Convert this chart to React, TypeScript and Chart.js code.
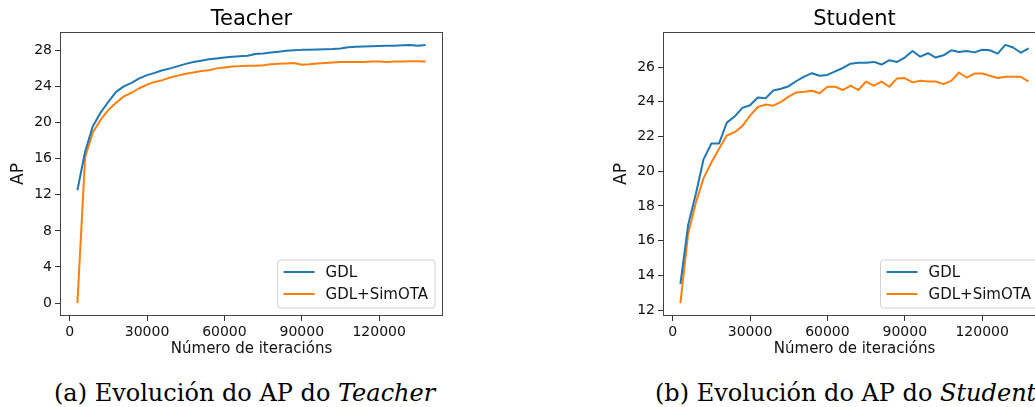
import React, { useEffect, useRef } from "react";
import { Chart, registerables } from "chart.js";

Chart.register(...registerables);
Chart.defaults.font.family = "'DejaVu Sans', sans-serif";

// ---------- data ----------
const iterations = [
  3000, 6000, 9000, 12000, 15000, 18000, 21000, 24000, 27000, 30000,
  33000, 36000, 39000, 42000, 45000, 48000, 51000, 54000, 57000, 60000,
  63000, 66000, 69000, 72000, 75000, 78000, 81000, 84000, 87000, 90000,
  93000, 96000, 99000, 102000, 105000, 108000, 111000, 114000, 117000, 120000,
  123000, 126000, 129000, 132000, 135000, 138000,
];

const teacherGDL = [
  12.5, 16.8, 19.6, 21.1, 22.3, 23.4, 24.0, 24.4, 24.9, 25.25,
  25.5, 25.8, 26.0, 26.25, 26.5, 26.7, 26.85, 27.0, 27.1, 27.2,
  27.3, 27.35, 27.4, 27.6, 27.65, 27.75, 27.85, 27.95, 28.0, 28.05,
  28.07, 28.1, 28.12, 28.15, 28.2, 28.35, 28.4, 28.42, 28.45, 28.47,
  28.5, 28.52, 28.55, 28.58, 28.5, 28.6,
];

const teacherSimOTA = [
  0, 16.2, 18.9, 20.3, 21.4, 22.2, 22.9, 23.3, 23.8, 24.2,
  24.5, 24.7, 25.0, 25.2, 25.4, 25.55, 25.7, 25.8, 26.0, 26.1,
  26.2, 26.25, 26.3, 26.3, 26.35, 26.45, 26.5, 26.55, 26.6, 26.4,
  26.45, 26.55, 26.6, 26.65, 26.7, 26.7, 26.7, 26.7, 26.75, 26.75,
  26.7, 26.75, 26.75, 26.78, 26.78, 26.75,
];

const studentGDL = [
  13.5, 16.9, 18.7, 20.7, 21.6, 21.6, 22.8, 23.15, 23.65, 23.8,
  24.25, 24.2, 24.65, 24.75, 24.9, 25.2, 25.45, 25.65, 25.5, 25.55,
  25.75, 25.95, 26.2, 26.25, 26.25, 26.3, 26.15, 26.4, 26.3, 26.55,
  26.93, 26.6, 26.8, 26.55, 26.68, 26.97, 26.87, 26.93, 26.85, 27.0,
  26.97, 26.78, 27.28, 27.13, 26.83, 27.08,
];

const studentSimOTA = [
  12.4, 16.4, 18.2, 19.6, 20.5, 21.3, 22.06, 22.25, 22.6, 23.2,
  23.7, 23.84, 23.78, 24.0, 24.3, 24.54, 24.58, 24.64, 24.49, 24.87,
  24.87, 24.68, 24.93, 24.68, 25.17, 24.93, 25.17, 24.87, 25.35, 25.37,
  25.12, 25.21, 25.17, 25.17, 25.02, 25.21, 25.69, 25.4, 25.63, 25.63,
  25.5, 25.37, 25.44, 25.44, 25.44, 25.17,
];

const xTickValues = [0, 30000, 60000, 90000, 120000];
const teacherYTicks = [0, 4, 8, 12, 16, 20, 24, 28];
const studentYTicks = [12, 14, 16, 18, 20, 22, 24, 26];

const seriesLabels = ["GDL", "GDL+SimOTA"];
const seriesColors = ["#1f77b4", "#ff7f0e"];

const xAxisLabel = "Número de iteracións";
const yAxisLabel = "AP";

// ---------- helpers ----------
function marginRange(values: number[]) {
  const lo = Math.min(...values);
  const hi = Math.max(...values);
  const m = (hi - lo) * 0.05;
  return { min: lo - m, max: hi + m };
}

const TEXT = "#111";

const decorPlugin = {
  id: "mplDecor",
  afterDraw(chart: any, _args: any, opts: any) {
    const { ctx, chartArea: a } = chart;
    ctx.save();
    // title
    ctx.fillStyle = "#000";
    ctx.font = "21px 'DejaVu Sans'";
    ctx.textAlign = "center";
    ctx.textBaseline = "alphabetic";
    ctx.fillText(opts.title, (a.left + a.right) / 2, a.top - 7);

    // frame
    ctx.strokeStyle = "#444";
    ctx.lineWidth = 1;
    ctx.strokeRect(
      Math.round(a.left) + 0.5,
      Math.round(a.top) + 0.5,
      Math.round(a.right - a.left) - 1,
      Math.round(a.bottom - a.top) - 1
    );

    // legend
    ctx.font = "15px 'DejaVu Sans'";
    const textW = Math.max(
      ...chart.data.datasets.map((d: any) => ctx.measureText(d.label).width)
    );
    const boxW = 6 + 31 + 11 + textW + 7;
    const boxH = 48;
    const bx = a.right - 8 - boxW;
    const by = a.bottom - 8 - boxH;
    const r = 3;
    ctx.beginPath();
    ctx.moveTo(bx + r, by);
    ctx.lineTo(bx + boxW - r, by);
    ctx.arcTo(bx + boxW, by, bx + boxW, by + r, r);
    ctx.lineTo(bx + boxW, by + boxH - r);
    ctx.arcTo(bx + boxW, by + boxH, bx + boxW - r, by + boxH, r);
    ctx.lineTo(bx + r, by + boxH);
    ctx.arcTo(bx, by + boxH, bx, by + boxH - r, r);
    ctx.lineTo(bx, by + r);
    ctx.arcTo(bx, by, bx + r, by, r);
    ctx.closePath();
    ctx.fillStyle = "rgba(255,255,255,0.8)";
    ctx.fill();
    ctx.strokeStyle = "#d0d0d0";
    ctx.lineWidth = 1;
    ctx.stroke();

    chart.data.datasets.forEach((d: any, i: number) => {
      const cy = by + 12 + i * 22;
      ctx.strokeStyle = d.borderColor;
      ctx.lineWidth = 2;
      ctx.beginPath();
      ctx.moveTo(bx + 6, cy);
      ctx.lineTo(bx + 37, cy);
      ctx.stroke();
      ctx.fillStyle = TEXT;
      ctx.textAlign = "left";
      ctx.textBaseline = "middle";
      ctx.fillText(d.label, bx + 48, cy + 1);
    });
    ctx.restore();
  },
};

type PanelProps = {
  title: string;
  gdl: number[];
  sim: number[];
  yTicks: number[];
  left: number;
};

function Panel({ title, gdl, sim, yTicks, left }: PanelProps) {
  const ref = useRef<HTMLCanvasElement>(null);
  useEffect(() => {
    if (!ref.current) return;
    const xr = marginRange(iterations);
    const yr = marginRange([...gdl, ...sim]);
    const series = [gdl, sim];
    const chart = new Chart(ref.current, {
      type: "line",
      data: {
        datasets: series.map((vals, k) => ({
          label: seriesLabels[k],
          data: iterations.map((x, i) => ({ x, y: vals[i] })),
          borderColor: seriesColors[k],
          backgroundColor: seriesColors[k],
          borderWidth: 2,
          pointRadius: 0,
          tension: 0,
          fill: false,
          borderJoinStyle: "round" as const,
        })),
      },
      options: {
        responsive: false,
        animation: false,
        layout: { padding: { top: 32, left: 0, right: 27, bottom: 0 } },
        plugins: {
          legend: { display: false },
          tooltip: { enabled: false },
          title: { display: false },
          mplDecor: { title },
        } as any,
        scales: {
          x: {
            type: "linear",
            min: xr.min,
            max: xr.max,
            afterFit: (s: any) => {
              s.height = 49;
            },
            afterBuildTicks: (s: any) => {
              s.ticks = xTickValues.map((v) => ({ value: v }));
            },
            border: { display: false },
            grid: {
              drawOnChartArea: false,
              drawTicks: true,
              tickLength: 5,
              tickColor: "#333",
              tickWidth: 1,
            },
            ticks: {
              autoSkip: false,
              maxRotation: 0,
              padding: 3,
              color: TEXT,
              font: { size: 14 },
              callback: (v: any) => String(v),
            },
            title: {
              display: true,
              text: xAxisLabel,
              color: TEXT,
              font: { size: 15 },
              padding: { top: 0, bottom: 7 },
            },
          },
          y: {
            type: "linear",
            min: yr.min,
            max: yr.max,
            afterFit: (s: any) => {
              s.width = 60;
            },
            afterBuildTicks: (s: any) => {
              s.ticks = yTicks.map((v) => ({ value: v }));
            },
            border: { display: false },
            grid: {
              drawOnChartArea: false,
              drawTicks: true,
              tickLength: 5,
              tickColor: "#333",
              tickWidth: 1,
            },
            ticks: {
              autoSkip: false,
              padding: 3,
              color: TEXT,
              font: { size: 14 },
              callback: (v: any) => String(v),
            },
            title: {
              display: true,
              text: yAxisLabel,
              color: TEXT,
              font: { size: 17 },
              padding: { top: 8, bottom: 0 },
            },
          },
        },
      },
      plugins: [decorPlugin],
    });
    return () => chart.destroy();
  }, []);
  return (
    <canvas
      ref={ref}
      width={470}
      height={365}
      style={{ position: "absolute", left, top: 0, width: 470, height: 365 }}
    />
  );
}

const captionStyle: React.CSSProperties = {
  position: "absolute",
  top: 381,
  fontFamily: "'DejaVu Serif', serif",
  fontSize: 24,
  lineHeight: "24px",
  whiteSpace: "nowrap",
  color: "#000",
};

export default function App() {
  return (
    <div
      style={{
        position: "absolute",
        left: 0,
        top: 0,
        width: 1035,
        height: 407,
        overflow: "hidden",
        background: "#fff",
      }}
    >
      <Panel title="Teacher" gdl={teacherGDL} sim={teacherSimOTA} yTicks={teacherYTicks} left={0} />
      <Panel title="Student" gdl={studentGDL} sim={studentSimOTA} yTicks={studentYTicks} left={603} />
      <div style={{ ...captionStyle, left: 54 }}>
        (a) Evolución do AP do <i>Teacher</i>
      </div>
      <div style={{ ...captionStyle, left: 655 }}>
        (b) Evolución do AP do <i>Student</i>
      </div>
    </div>
  );
}
